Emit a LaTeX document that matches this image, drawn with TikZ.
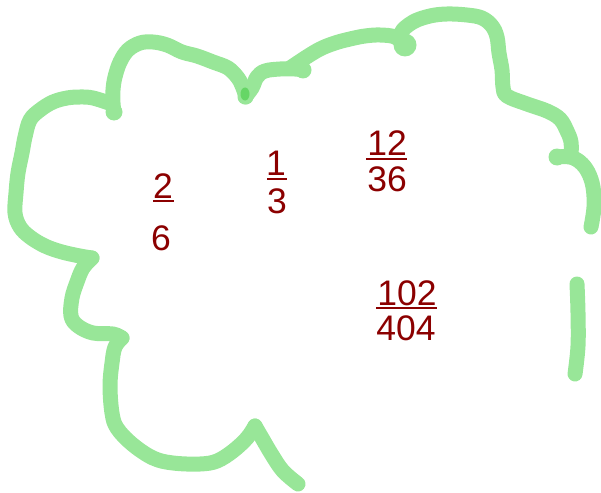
\documentclass[tikz,border=0pt]{standalone}
\usepackage{fontspec}
\setmainfont{Liberation Sans}
\definecolor{pen}{RGB}{152,230,152}
\definecolor{penover}{RGB}{102,214,102}
\definecolor{ink}{RGB}{139,0,0}
\begin{document}
\begin{tikzpicture}[x=1pt,y=-1pt,
  penline/.style={draw=pen, line width=15pt, line cap=round, line join=round},
  blob/.style={fill=pen},
  num/.style={text=ink, font=\fontsize{35.5}{40}\selectfont, inner sep=0pt, anchor=base},
  fracrule/.style={draw=ink, line width=1.8pt}]
\useasboundingbox (0,0) rectangle (601,492);
% upper-left lobe
\draw[penline] plot[smooth, tension=0.6] coordinates {(246,97) (243,88) (238,78) (228,68) (213,62) (197,56) (182,52) (167,45) (153,42) (140,43) (128,50) (120,62) (115,77) (113,90) (113,103) (114,112)};
% left side and bottom
\draw[penline] plot[smooth, tension=0.6] coordinates {(112,104) (93,98) (80,97) (67,98) (53,102) (40,110) (30,120) (25,137) (22,153) (18,173) (16,193) (15,213) (20,227) (30,237) (45,246) (62,252) (80,256) (92,258)};
\draw[penline] plot[smooth, tension=0.6] coordinates {(92,258) (83,268) (77,282) (72,298) (71,316) (78,326) (93,333) (113,334) (122,338)};
\draw[penline] plot[smooth, tension=0.6] coordinates {(122,338) (115,347) (112,363) (110,386) (112,413) (117,428) (132,444) (153,458) (173,463) (200,464) (217,461) (233,451) (247,438) (255,426)};
\draw[penline] plot[smooth, tension=0.6] coordinates {(255,426) (262,438) (272,455) (283,471) (298,484)};
% middle small stroke
\draw[penline] plot[smooth, tension=0.6] coordinates {(245,97) (252,88) (257,77) (265,71) (280,69) (295,69) (303,70)};
% arc to the top
\draw[penline] plot[smooth, tension=0.6] coordinates {(290,68) (305,58) (320,49) (335,43) (350,39) (365,36) (380,35) (395,37) (405,45)};
% top-right lobe
\draw[penline] plot[smooth, tension=0.6] coordinates {(405,45) (401,33) (413,22) (430,16) (447,14) (467,15) (482,18) (492,26) (497,37) (499,53) (502,70) (503,87) (507,96) (527,104) (547,111) (560,119) (567,131) (571,142) (571,155)};
% right lobe
\draw[penline] plot[smooth, tension=0.6] coordinates {(557,157) (570,157) (580,162) (588,172) (593,187) (594,207) (591,227)};
% right vertical stroke
\draw[penline] plot[smooth, tension=0.6] coordinates {(577,284) (578,313) (578,346) (575,374)};
% pen blobs
\fill[blob] (114,112) circle (8.5);
\fill[blob] (303,70) circle (8.5);
\fill[blob] (405,45) circle (11.5);
\fill[blob] (557,157) circle (8.5);
\fill[penover] (245,94) ellipse (4.5 and 6.5);
% fractions
\node[num] (n2) at (163,198) {2};
\node[num] (d6) at (161,250) {6};
\node[num] (n1) at (276,175) {1};
\node[num] (d3) at (277,213) {3};
\node[num] (n12) at (387,155) {12};
\node[num] (d36) at (387,191) {36};
\node[num] (n102) at (407,305) {102};
\node[num] (d404) at (406,340) {404};
\draw[fracrule] (153,201) -- (174,201);
\draw[fracrule] (267,179) -- (287,179);
\draw[fracrule] (366,159) -- (407,159);
\draw[fracrule] (376,308) -- (437,308);
\end{tikzpicture}
\end{document}
